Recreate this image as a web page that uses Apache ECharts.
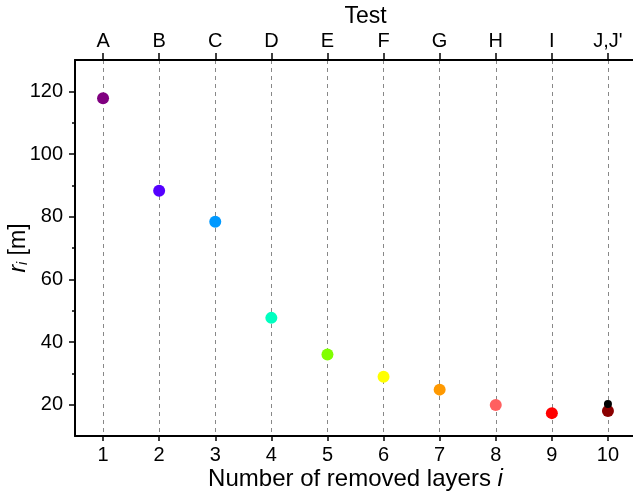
<!DOCTYPE html>
<html>
<head>
<meta charset="utf-8">
<script src="https://cdn.jsdelivr.net/npm/echarts@6/dist/echarts.min.js"></script>
<style>html,body{margin:0;padding:0;background:#fff}#c{width:633px;height:497px}</style>
</head>
<body>
<div id="c"></div>
<script>
// ---- data ----
var layers = [1, 2, 3, 4, 5, 6, 7, 8, 9, 10];
var rValues = [117.8, 88.3, 78.4, 47.7, 36.0, 28.9, 24.8, 19.9, 17.3, 18.0];
var pointColors = ['#800080', '#5500ff', '#0099ff', '#00ffc0', '#80ff00', '#ffff00', '#ff9900', '#ff6060', '#ff0000', '#8b0000'];
var extraX = [10];
var extraR = [20.2];
var testLabels = ['A', 'B', 'C', 'D', 'E', 'F', 'G', 'H', 'I', "J,J'"];
var yMajorTicks = [20, 40, 60, 80, 100, 120];
var yMinorTicks = [30, 50, 70, 90, 110];

var FONT = '"Liberation Sans", Arial, sans-serif';
var chart = echarts.init(document.getElementById('c'), null, {renderer: 'canvas'});

var mainData = layers.map(function (x, i) {
  return {value: [x, rValues[i]], itemStyle: {color: pointColors[i], opacity: 1}};
});
var extraData = extraX.map(function (x, i) { return [x, extraR[i]]; });

chart.setOption({
  animation: false,
  backgroundColor: '#fff',
  grid: {left: 75, top: 60, bottom: 61, width: 561, containLabel: false, outerBoundsMode: 'none'},
  xAxis: [
    {
      type: 'value', position: 'bottom', min: 0.5, max: 10.5,
      axisLine: {show: true, lineStyle: {color: '#000', width: 2}},
      axisTick: {show: true, inside: false, length: 5, lineStyle: {color: '#000', width: 1.5}, customValues: layers},
      axisLabel: {show: true, margin: 9, color: '#000', fontSize: 20, fontFamily: FONT, customValues: layers},
      splitLine: {show: true, lineStyle: {color: '#888', type: [4, 4], width: 1}, customValues: layers},
      name: '{t|Number of removed layers }{it|i}',
      nameLocation: 'middle', nameGap: 31, nameMoveOverlap: false,
      nameTextStyle: {rich: {
        t: {fontSize: 24, fontFamily: FONT, color: '#000'},
        it: {fontSize: 24, fontFamily: FONT, fontStyle: 'italic', color: '#000'}
      }}
    },
    {
      type: 'value', position: 'top', min: 0.5, max: 10.5,
      axisLine: {show: true, lineStyle: {color: '#000', width: 2}},
      axisTick: {show: true, inside: false, length: 7, lineStyle: {color: '#000', width: 1.5}, customValues: layers},
      axisLabel: {show: true, margin: 9, color: '#000', fontSize: 20, fontFamily: FONT, customValues: layers,
        formatter: function (v) { return testLabels[layers.indexOf(Math.round(v))] || ''; }},
      splitLine: {show: false},
      name: 'Test', nameLocation: 'middle', nameGap: 32, nameMoveOverlap: false,
      nameTextStyle: {fontSize: 23, fontFamily: FONT, color: '#000', padding: [0, 0, 0, 20]}
    }
  ],
  yAxis: [
    {
      type: 'value', position: 'left', min: 10, max: 130,
      axisLine: {show: true, lineStyle: {color: '#000', width: 2}},
      axisTick: {show: true, inside: false, length: 6, lineStyle: {color: '#000', width: 1.5}, customValues: yMajorTicks},
      axisLabel: {show: true, margin: 12, color: '#000', fontSize: 20, fontFamily: FONT, customValues: yMajorTicks},
      splitLine: {show: false},
      name: '{it|r}{sub|i}{t| [m]}',
      nameLocation: 'middle', nameGap: 45, nameRotate: 90, nameMoveOverlap: false,
      nameTextStyle: {rich: {
        it: {fontSize: 23, fontFamily: FONT, fontStyle: 'italic', color: '#000'},
        sub: {fontSize: 14, fontFamily: FONT, fontStyle: 'italic', color: '#000', verticalAlign: 'bottom', padding: [8, 0, 0, 0]},
        t: {fontSize: 23, fontFamily: FONT, color: '#000'}
      }}
    },
    {
      type: 'value', position: 'left', min: 10, max: 130,
      axisLine: {show: false},
      axisTick: {show: true, inside: false, length: 3, lineStyle: {color: '#000', width: 1.5}, customValues: yMinorTicks},
      axisLabel: {show: false},
      splitLine: {show: false}
    }
  ],
  series: [
    {
      type: 'scatter', xAxisIndex: 0, yAxisIndex: 0,
      symbol: 'circle', symbolSize: 12, data: mainData, z: 3
    },
    {
      type: 'scatter', xAxisIndex: 0, yAxisIndex: 0,
      symbol: 'circle', symbolSize: 8, itemStyle: {color: '#000', opacity: 1}, data: extraData, z: 4
    }
  ]
});
</script>
</body>
</html>
